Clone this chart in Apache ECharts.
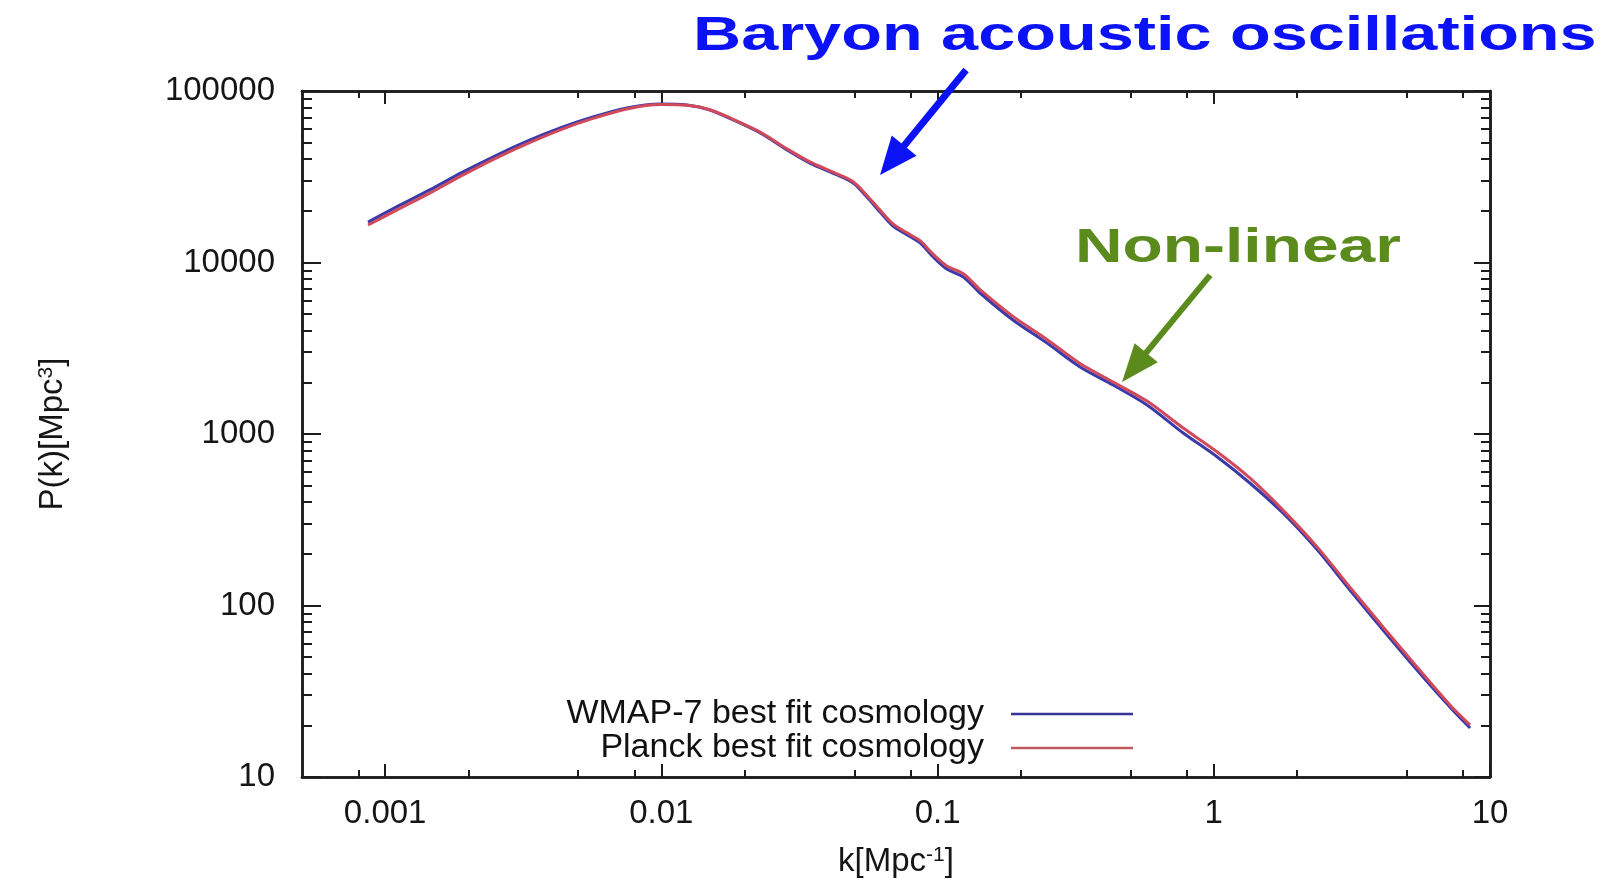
<!DOCTYPE html>
<html>
<head>
<meta charset="utf-8">
<title>Matter power spectrum</title>
<script src="https://cdn.jsdelivr.net/npm/echarts@6/dist/echarts.min.js"></script>
<style>
  html, body { margin: 0; padding: 0; background: #ffffff; }
  #chart { width: 1611px; height: 884px; }
</style>
</head>
<body>
<div id="chart"></div>
<script>
// Wavenumber k [Mpc^-1]
const kValues = [
  0.000867, 0.0011, 0.00145, 0.0019, 0.00254, 0.00335, 0.0044, 0.00566, 0.0075, 0.0099,
  0.0124, 0.015, 0.0182, 0.0228, 0.0285, 0.0345, 0.0433, 0.0495, 0.0555, 0.0619,
  0.069, 0.0775, 0.0864, 0.0963, 0.108, 0.124, 0.1425, 0.1875, 0.249, 0.328,
  0.432, 0.573, 0.775, 1.03, 1.35, 1.78, 2.37, 3.11, 4.1, 5.44,
  7.16, 8.47
];
// P(k) [Mpc^3], WMAP-7 best fit
const wmap7 = [
  17200, 21100, 26500, 33500, 42300, 51800, 61700, 70500, 79600, 84000,
  82800, 77500, 67800, 56900, 45300, 38000, 32400, 29100, 24100, 19700,
  16300, 14500, 13000, 10800, 9160, 8230, 6640, 4620, 3390, 2460,
  1930, 1476, 1014, 734, 518, 346, 211, 123, 72, 42.1,
  25.6, 19.3
];
// P(k) [Mpc^3], Planck best fit
const planck = [
  16550, 20200, 25400, 32200, 40900, 50200, 60200, 69200, 78600, 83300,
  82600, 77800, 68400, 57600, 46000, 38600, 32900, 29600, 24600, 20200,
  16800, 14900, 13400, 11200, 9550, 8600, 6950, 4850, 3560, 2580,
  2010, 1555, 1084, 785, 554, 360, 219, 128, 75, 43.8,
  26.3, 20.1
];
const seriesNames = ['WMAP-7 best fit cosmology', 'Planck best fit cosmology'];
const seriesColors = ['#3a3aa8', '#d04a5c'];
const legendColors = ['#34349a', '#c05a62'];

// Axis ticks
const xMajorTicks = [0.001, 0.01, 0.1, 1, 10];
const xMinorTicks = [0.0008, 0.002, 0.005, 0.008, 0.02, 0.05, 0.08, 0.2, 0.5, 0.8, 2, 5, 8];
const yMajorTicks = [10, 100, 1000, 10000, 100000];
const yMinorTicks = [
  20, 30, 40, 50, 60, 70, 80, 90,
  200, 300, 400, 500, 600, 700, 800, 900,
  2000, 3000, 4000, 5000, 6000, 7000, 8000, 9000,
  20000, 30000, 40000, 50000, 60000, 70000, 80000, 90000
];

// Annotation arrows: [k, P] of tail and head
const baoArrowTail = [0.1268, 132500];
const baoArrowHead = [0.0619, 32360];
const nonlinArrowTail = [0.970, 8450];
const nonlinArrowHead = [0.4655, 2010];

const FONT = '"Liberation Sans", Arial, Helvetica, sans-serif';
const INK = '#1c1c1c';
const TEXT = '#151515';

function xAxisDef(position, ticks, tickLen, withLabels) {
  return {
    type: 'log', logBase: 10, min: 0.0005, max: 10, position: position,
    axisLine: { show: true, onZero: false, lineStyle: { color: INK, width: 2.5 } },
    axisTick: { show: true, inside: true, length: tickLen, customValues: ticks,
                lineStyle: { color: INK, width: 2 } },
    axisLabel: withLabels ? {
      show: true, customValues: xMajorTicks, margin: 20,
      fontFamily: FONT, fontSize: 33, color: TEXT,
      formatter: function (v) { return String(v); }
    } : { show: false },
    splitLine: { show: false },
    minorTick: { show: false },
    name: withLabels ? '{a|k[Mpc}{s|-1}{a|]}' : '',
    nameLocation: 'middle',
    nameGap: 68,
    nameTextStyle: {
      rich: {
        a: { fontFamily: FONT, fontSize: 33, lineHeight: 34, color: TEXT },
        s: { fontFamily: FONT, fontSize: 21, lineHeight: 34, verticalAlign: 'top', color: TEXT, padding: [0, 0, 16, 0] }
      }
    }
  };
}

function yAxisDef(position, ticks, tickLen, withLabels) {
  return {
    type: 'log', logBase: 10, min: 10, max: 100000, position: position,
    axisLine: { show: true, onZero: false, lineStyle: { color: INK, width: 2.5 } },
    axisTick: { show: true, inside: true, length: tickLen, customValues: ticks,
                lineStyle: { color: INK, width: 2 } },
    axisLabel: withLabels ? {
      show: true, customValues: yMajorTicks, margin: 27,
      fontFamily: FONT, fontSize: 33, color: TEXT,
      formatter: function (v) { return String(v); }
    } : { show: false },
    splitLine: { show: false },
    minorTick: { show: false },
    name: withLabels ? '{a|P(k)[Mpc}{s|3}{a|]}' : '',
    nameLocation: 'middle',
    nameRotate: 90,
    nameGap: 232,
    nameTextStyle: {
      rich: {
        a: { fontFamily: FONT, fontSize: 33, lineHeight: 34, color: TEXT },
        s: { fontFamily: FONT, fontSize: 21, lineHeight: 34, verticalAlign: 'top', color: TEXT, padding: [0, 0, 16, 0] }
      }
    }
  };
}

const chart = echarts.init(document.getElementById('chart'), null, { renderer: 'canvas' });

chart.setOption({
  animation: false,
  backgroundColor: '#ffffff',
  grid: { left: 302, right: 121, top: 91, bottom: 107, containLabel: false, outerBoundsMode: 'none' },
  xAxis: [
    xAxisDef('bottom', xMajorTicks, 13, true),
    xAxisDef('bottom', xMinorTicks, 7, false),
    xAxisDef('top', xMajorTicks, 13, false),
    xAxisDef('top', xMinorTicks, 7, false)
  ],
  yAxis: [
    yAxisDef('left', yMajorTicks, 19, true),
    yAxisDef('left', yMinorTicks, 10, false),
    yAxisDef('right', yMajorTicks, 16, false),
    yAxisDef('right', yMinorTicks, 9, false)
  ],
  legend: {
    data: seriesNames.map(function (n, i) {
      return { name: n, icon: 'rect', itemStyle: { color: legendColors[i] } };
    }),
    orient: 'vertical',
    right: 478,
    top: 697,
    align: 'right',
    itemWidth: 122,
    itemHeight: 2.5,
    itemGap: 0,
    padding: 0,
    textStyle: { fontFamily: FONT, fontSize: 34, lineHeight: 33, color: '#111111', padding: [0, 22, 0, 0] }
  },
  series: [
    {
      name: seriesNames[0], type: 'line', xAxisIndex: 0, yAxisIndex: 0,
      data: kValues.map(function (k, i) { return [k, wmap7[i]]; }),
      symbol: 'none', showSymbol: false, smooth: 0.3, color: seriesColors[0],
      lineStyle: { width: 3, color: seriesColors[0] }, z: 3
    },
    {
      name: seriesNames[1], type: 'line', xAxisIndex: 0, yAxisIndex: 0,
      data: kValues.map(function (k, i) { return [k, planck[i]]; }),
      symbol: 'none', showSymbol: false, smooth: 0.3, color: seriesColors[1],
      lineStyle: { width: 3, color: seriesColors[1] }, z: 3
    }
  ]
});

// Arrow (shaft + triangular head) between two data points
function arrow(tail, head, color, shaftWidth, headLen, headWidth) {
  const t = chart.convertToPixel({ gridIndex: 0 }, tail);
  const h = chart.convertToPixel({ gridIndex: 0 }, head);
  const dx = t[0] - h[0], dy = t[1] - h[1];
  const len = Math.sqrt(dx * dx + dy * dy);
  const ux = dx / len, uy = dy / len;
  const bx = h[0] + ux * headLen, by = h[1] + uy * headLen;
  const nx = -uy * headWidth / 2, ny = ux * headWidth / 2;
  return [
    { type: 'line', z: 20, silent: true,
      shape: { x1: t[0], y1: t[1], x2: bx - ux * 2, y2: by - uy * 2 },
      style: { stroke: color, lineWidth: shaftWidth } },
    { type: 'polygon', z: 20, silent: true,
      shape: { points: [[h[0], h[1]], [bx + nx, by + ny], [bx - nx, by - ny]] },
      style: { fill: color } }
  ];
}

const BLUE = '#0c12f6';
const GREEN = '#5b8b1d';

chart.setOption({
  graphic: [].concat(
    arrow(baoArrowTail, baoArrowHead, BLUE, 7, 38, 32),
    arrow(nonlinArrowTail, nonlinArrowHead, GREEN, 6, 38, 30),
    [
      { type: 'text', x: 693, y: 36, scaleX: 1.36, z: 21, silent: true,
        style: { text: 'Baryon acoustic oscillations', fontFamily: FONT, fontWeight: 'bold',
                 fontSize: 49, fill: BLUE, align: 'left', verticalAlign: 'middle' } },
      { type: 'text', x: 1075, y: 248, scaleX: 1.345, z: 21, silent: true,
        style: { text: 'Non-linear', fontFamily: FONT, fontWeight: 'bold',
                 fontSize: 49, fill: GREEN, align: 'left', verticalAlign: 'middle' } }
    ]
  )
});
</script>
</body>
</html>
